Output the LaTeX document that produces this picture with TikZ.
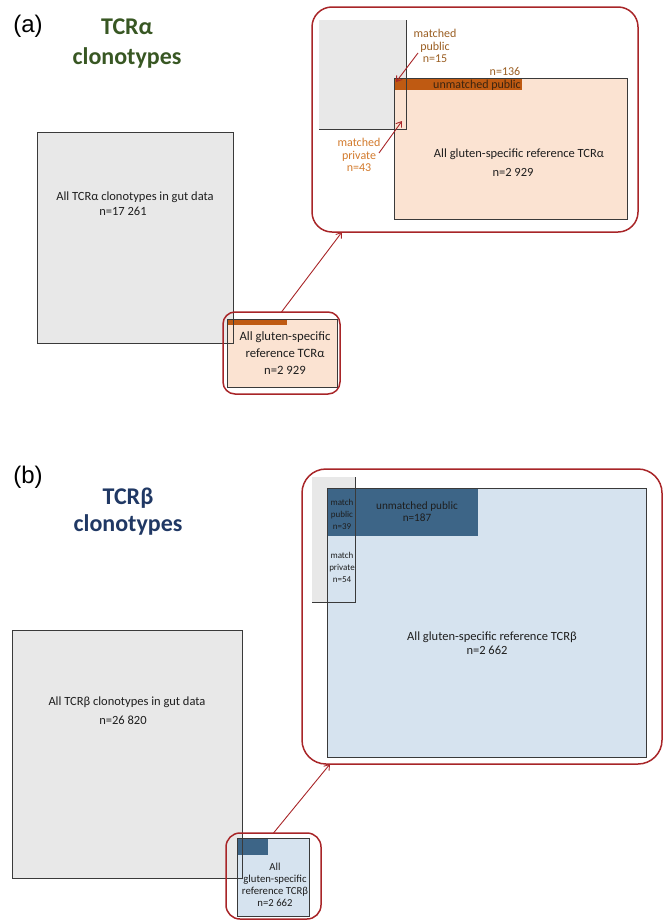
\documentclass[tikz,border=0pt]{standalone}
\usepackage{fontspec}
\setmainfont{Carlito}
\newfontfamily\panelfont{Liberation Sans}
\usetikzlibrary{arrows.meta}
\definecolor{gutgray}{HTML}{E8E8E8}
\definecolor{edgegray}{HTML}{3A3A3A}
\definecolor{peach}{HTML}{FBE3D2}
\definecolor{rust}{HTML}{BF5A12}
\definecolor{framered}{HTML}{A82528}
\definecolor{paleblue}{HTML}{D6E3EF}
\definecolor{steelblue}{HTML}{3D6587}
\definecolor{alphagreen}{HTML}{385723}
\definecolor{betanavy}{HTML}{203864}
\definecolor{pubbrown}{HTML}{9A5E22}
\definecolor{privorange}{HTML}{D27A2C}
\definecolor{barbrown}{HTML}{3A2410}
\definecolor{inktext}{HTML}{1E1E1E}
\begin{document}
\begin{tikzpicture}[x=1bp,y=-1bp,
  box/.style={rectangle,inner sep=0pt,outer sep=0pt,anchor=north west},
  frame/.style={box,draw=framered,line width=1.5bp},
  outline/.style={draw=edgegray,line width=1bp},
  arr/.style={draw=framered,line width=0.9bp,-{Straight Barb[length=5bp,width=7bp]}},
  lbl/.style={inner sep=0pt,align=center,text=inktext},
  panel/.style={inner sep=0pt,font=\panelfont\fontsize{24bp}{28bp}\selectfont},
  titleA/.style={inner sep=0pt,align=center,font=\bfseries\fontsize{24bp}{30bp}\selectfont},
  titleB/.style={inner sep=0pt,align=center,font=\bfseries\fontsize{24bp}{27bp}\selectfont},
  fbody/.style={font=\fontsize{12.5bp}{15bp}\selectfont},
  fsmallbox/.style={font=\fontsize{12.7bp}{17bp}\selectfont},
  fnote/.style={font=\fontsize{12bp}{12.5bp}\selectfont},
  ftiny/.style={font=\fontsize{9bp}{12bp}\selectfont},
  fmid/.style={font=\fontsize{11.2bp}{12bp}\selectfont},
  fbox/.style={font=\fontsize{10.7bp}{12bp}\selectfont}]
\useasboundingbox (0,0) rectangle (667,920);

% ---------------- panel (a): TCR alpha ----------------
\node[panel] (labA) at (28,26) {(a)};
\node[titleA,text=alphagreen] (titleA) at (127,44) {TCRα\\clonotypes};

% all gut clonotypes and the reference set overlapping its corner
\node[box,fill=gutgray,minimum width=196bp,minimum height=211bp] (gutA) at (37,132) {};
\node[box,fill=peach,minimum width=110bp,minimum height=68bp] (refA) at (227,319) {};
\node[box,fill=rust,minimum width=60bp,minimum height=6bp] (barA) at (227,319) {};
\draw[outline] (refA.north west) rectangle (refA.south east);
\draw[outline] (gutA.north west) rectangle (gutA.south east);
\node[lbl,fbody] (gutAtxt1) at (135,197) {All TCRα clonotypes in gut data};
\node[lbl,fbody] (gutAtxt2) at (123,211) {n=17 261};
\node[lbl,fsmallbox] (refAtxt) at (285,353) {All gluten-specific\\reference TCRα\\n=2 929};
\node[frame,rounded corners=12bp,minimum width=117bp,minimum height=82bp] (zoomA) at (223,312) {};

% enlarged view of the overlap
\node[frame,rounded corners=20bp,minimum width=326bp,minimum height=225bp] (bigA) at (312,7) {};
\node[box,fill=gutgray,minimum width=87bp,minimum height=109bp] (gutAz) at (319,20) {};
\node[box,fill=peach,minimum width=233bp,minimum height=141bp] (refAz) at (394,78) {};
\node[box,fill=rust,minimum width=128bp,minimum height=12bp] (barAz) at (394,78) {};
\draw[outline] (refAz.north west) rectangle (refAz.south east);
\draw[outline] (gutAz.north east) -- (gutAz.south east) -- (gutAz.south west);
\node[lbl,fnote,text=pubbrown] (mpubA) at (435,46) {matched\\public\\n=15};
\node[lbl,fnote,text=pubbrown] (n136) at (505,71) {n=136};
\node[lbl,fnote,text=barbrown] (unpubA) at (477,85) {unmatched public};
\node[lbl,fnote,text=privorange] (mprivA) at (359,155) {matched\\private\\n=43};
\node[lbl,fbody] (refAz1) at (519,154) {All gluten-specific reference TCRα};
\node[lbl,fbody] (refAz2) at (513,172) {n=2 929};
\coordinate (mpubAtail) at (418,53);
\coordinate (mprivAtail) at (379,153);
\draw[arr] (mpubAtail) -- ([shift={(2,4)}]barAz.north west);
\draw[arr] (mprivAtail) -- ([shift={(-4,-8)}]gutAz.south east);

\draw[arr] (zoomA.north) -- ([xshift=30bp]bigA.south west);

% ---------------- panel (b): TCR beta ----------------
\node[panel] (labB) at (28,477) {(b)};
\node[titleB,text=betanavy] (titleB) at (128,512) {TCRβ\\clonotypes};

\node[box,fill=gutgray,minimum width=230bp,minimum height=248bp] (gutB) at (12,630) {};
\node[box,fill=paleblue,minimum width=72bp,minimum height=78bp] (refB) at (237,838) {};
\node[box,fill=steelblue,minimum width=31bp,minimum height=17bp] (pubB) at (237,838) {};
\draw[outline] (refB.north west) rectangle (refB.south east);
\draw[outline] (gutB.north west) rectangle (gutB.south east);
\node[lbl,fbody] (gutBtxt1) at (127,702) {All TCRβ clonotypes in gut data};
\node[lbl,fbody] (gutBtxt2) at (123,720) {n=26 820};
\node[lbl,fbox] (refBtxt) at (275,885) {All\\gluten-specific\\reference TCRβ\\n=2 662};
\node[frame,rounded corners=14bp,minimum width=95bp,minimum height=86bp] (zoomB) at (226,833) {};

% enlarged view of the overlap
\node[frame,rounded corners=24bp,minimum width=360bp,minimum height=295bp] (bigB) at (302,469) {};
\node[box,fill=gutgray,minimum width=43bp,minimum height=125bp] (gutBz) at (312,477) {};
\node[box,fill=paleblue,minimum width=319bp,minimum height=269bp] (refBz) at (327,488) {};
\node[box,fill=steelblue,minimum width=151bp,minimum height=48bp] (pubBz) at (327,488) {};
\draw[outline] (refBz.north west) rectangle (refBz.south east);
\draw[outline] (gutBz.north east) -- (gutBz.south east) -- (gutBz.south west);
\node[lbl,ftiny] (mpubB) at (342,514) {match\\public\\n=39};
\node[lbl,ftiny] (mprivB) at (342,567) {match\\private\\n=54};
\node[lbl,fmid] (unpubB) at (417,512) {unmatched public\\n=187};
\node[lbl,fbody] (refBz1) at (492,637) {All gluten-specific reference TCRβ};
\node[lbl,fbody] (refBz2) at (487,650) {n=2 662};

\draw[arr] (zoomB.north) -- ([xshift=28bp]bigB.south west);
\end{tikzpicture}
\end{document}
